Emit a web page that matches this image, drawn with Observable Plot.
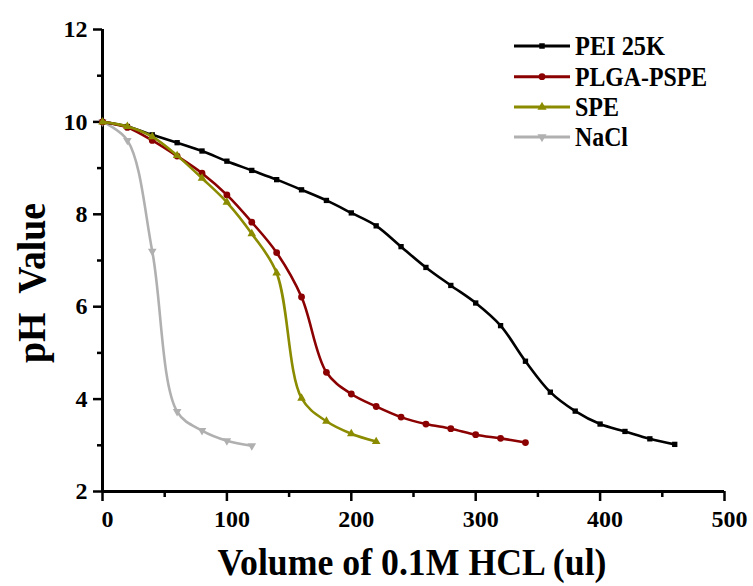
<!DOCTYPE html>
<html>
<head>
<meta charset="utf-8">
<script src="https://cdn.jsdelivr.net/npm/d3@7"></script>
<script src="https://cdn.jsdelivr.net/npm/@observablehq/plot@0.6"></script>
<style>
  html, body { margin: 0; padding: 0; background: #fff; }
  #chart svg { font-family: "Liberation Serif", "Times New Roman", serif; font-weight: bold; }
</style>
</head>
<body>
<div id="chart"></div>
<script>
// ---- data ----
const seriesNames = ["PEI 25K", "PLGA-PSPE", "SPE", "NaCl"];
const seriesColors = ["#000000", "#8b0000", "#8b8b00", "#b0b0b0"];

const peiX = [0,20,40,60,80,100,120,140,160,180,200,220,240,260,280,300,320,340,360,380,400,420,440,460];
const peiY = [10.0,9.9,9.72,9.55,9.37,9.15,8.95,8.75,8.53,8.3,8.03,7.75,7.3,6.85,6.46,6.08,5.59,4.82,4.15,3.74,3.46,3.30,3.14,3.02];

const plgaX = [0,20,40,60,80,100,120,140,160,180,200,220,240,260,280,300,320,340];
const plgaY = [10.0,9.88,9.6,9.26,8.89,8.42,7.83,7.17,6.21,4.58,4.11,3.84,3.61,3.46,3.36,3.23,3.15,3.06];

const speX = [0,20,40,60,80,100,120,140,160,180,200,220];
const speY = [10.0,9.9,9.68,9.27,8.78,8.26,7.58,6.73,4.02,3.52,3.25,3.08];

const naclX = [0,20,40,60,80,100,120];
const naclY = [10.0,9.6,7.2,3.73,3.32,3.10,2.99];

const xMajor = [0,100,200,300,400,500];
const xMinor = [50,150,250,350,450];
const yMajor = [2,4,6,8,10,12];
const yMinor = [3,5,7,9,11];

const xTitle = "Volume of 0.1M HCL (ul)";
const yTitle = "pH\u00a0\u00a0Value";

// ---- build table ----
const toRows = (xs, ys, name) => xs.map((x, i) => ({x, y: ys[i], s: name}));
const pei = toRows(peiX, peiY, seriesNames[0]);
const plga = toRows(plgaX, plgaY, seriesNames[1]);
const spe = toRows(speX, speY, seriesNames[2]);
const nacl = toRows(naclX, naclY, seriesNames[3]);

const lineOpts = (c) => ({x: "x", y: "y", stroke: c, strokeWidth: 2.6, curve: "catmull-rom"});

const plot = Plot.plot({
  width: 753,
  height: 586,
  marginLeft: 102,
  marginRight: 29,
  marginTop: 29,
  marginBottom: 95,
  x: {domain: [0, 500]},
  y: {domain: [2, 12]},
  marks: [
    Plot.axisX({ticks: xMajor, tickSize: 10, tickFormat: () => "", label: null, strokeWidth: 2.5}),
    Plot.axisX({ticks: xMajor, tickSize: 0, tickPadding: 18, tickFormat: d => String(d), label: null, fontSize: 24, fontWeight: "bold", dx: 5, fill: "#000"}),
    Plot.axisX({ticks: xMinor, tickSize: 6, tickFormat: () => "", label: null, strokeWidth: 2.5}),
    Plot.axisY({ticks: yMajor, tickSize: 9, tickPadding: 6, tickFormat: d => String(d), label: null, fontSize: 24, fontWeight: "bold", strokeWidth: 2.5, fill: "#000"}),
    Plot.axisY({ticks: yMinor, tickSize: 5, tickFormat: () => "", label: null, strokeWidth: 2.5}),
    Plot.ruleY([2], {stroke: "#000", strokeWidth: 3}),
    Plot.ruleX([0], {stroke: "#000", strokeWidth: 3}),
    Plot.line(nacl, lineOpts(seriesColors[3])),
    Plot.dot(nacl, {x: "x", y: "y", symbol: "triangle", rotate: 180, r: 3.2, fill: seriesColors[3], stroke: "none"}),
    Plot.line(pei, lineOpts(seriesColors[0])),
    Plot.dot(pei, {x: "x", y: "y", symbol: "square", r: 3, fill: seriesColors[0], stroke: "none"}),
    Plot.line(plga, lineOpts(seriesColors[1])),
    Plot.dot(plga, {x: "x", y: "y", symbol: "circle", r: 3.4, fill: seriesColors[1], stroke: "none"}),
    Plot.line(spe, lineOpts(seriesColors[2])),
    Plot.dot(spe, {x: "x", y: "y", symbol: "triangle", r: 3.2, fill: seriesColors[2], stroke: "none"})
  ]
});

document.getElementById("chart").appendChild(plot);

const svg = d3.select(plot);

// axis titles
svg.append("text")
  .attr("x", 412).attr("y", 575)
  .attr("text-anchor", "middle")
  .attr("font-size", 38).attr("font-weight", "bold")
  .attr("fill", "#000")
  .attr("textLength", 389).attr("lengthAdjust", "spacingAndGlyphs")
  .text(xTitle);

svg.append("text")
  .attr("transform", "translate(45,283) rotate(-90)")
  .attr("text-anchor", "middle")
  .attr("font-size", 40).attr("font-weight", "bold")
  .attr("fill", "#000")
  .attr("textLength", 160).attr("lengthAdjust", "spacingAndGlyphs")
  .text(yTitle);

// legend
const legendY = [46, 76.7, 107, 137];
const legendW = [90, 132, 44, 53];
const symbols = [d3.symbolSquare, d3.symbolCircle, d3.symbolTriangle, d3.symbolTriangle];
const symSize = [30, 36, 36, 36];
const lg = svg.append("g").attr("text-anchor", "start");
seriesNames.forEach((name, i) => {
  const g = lg.append("g").attr("transform", `translate(0,${legendY[i]})`);
  g.append("line").attr("x1", 514).attr("x2", 570).attr("y1", 0).attr("y2", 0)
    .attr("stroke", seriesColors[i]).attr("stroke-width", 3);
  g.append("path").attr("d", d3.symbol(symbols[i], symSize[i])())
    .attr("transform", `translate(542,0)${i === 3 ? " rotate(180)" : ""}`)
    .attr("fill", seriesColors[i]);
  g.append("text").attr("x", 575).attr("y", 9)
    .attr("text-anchor", "start")
    .attr("font-size", 27).attr("font-weight", "bold").attr("fill", "#000")
    .attr("textLength", legendW[i]).attr("lengthAdjust", "spacingAndGlyphs")
    .text(name);
});
</script>
</body>
</html>
